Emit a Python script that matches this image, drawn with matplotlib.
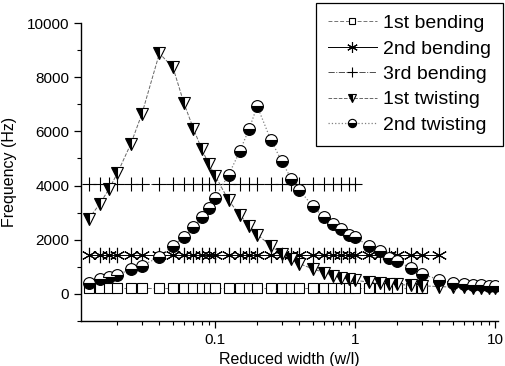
import matplotlib
matplotlib.use("Agg")
import matplotlib.pyplot as plt
from matplotlib.ticker import MultipleLocator, FixedLocator

plt.rcParams['font.family'] = ['Liberation Sans', 'DejaVu Sans']

# reduced width (w/l) grid used by the simulations
w_bend1 = [0.0125, 0.015, 0.0175, 0.02, 0.025, 0.03, 0.04, 0.05, 0.06, 0.07, 0.08, 0.09, 0.1,
           0.125, 0.15, 0.175, 0.2, 0.25, 0.3, 0.35, 0.4, 0.5, 0.6, 0.7, 0.8, 0.9, 1.0,
           1.25, 1.5, 1.75, 2, 2.5, 3]
f_bend1 = [200] * len(w_bend1)

w_bend2 = w_bend1 + [4]
f_bend2 = [1420] * len(w_bend2)

w_bend3 = w_bend1[:27]
f_bend3 = [4070] * len(w_bend3)

w_twist = [0.0125, 0.015, 0.0175, 0.02, 0.025, 0.03, 0.04, 0.05, 0.06, 0.07, 0.08, 0.09, 0.1,
           0.125, 0.15, 0.175, 0.2, 0.25, 0.3, 0.35, 0.4, 0.5, 0.6, 0.7, 0.8, 0.9, 1.0,
           1.25, 1.5, 1.75, 2, 2.5, 3, 4, 5, 6, 7, 8, 9, 10]
f_twist1 = [2770, 3330, 3880, 4450, 5540, 6650, 8880, 8360, 7030, 6100, 5360, 4800, 4370,
            3450, 2920, 2520, 2190, 1780, 1470, 1290, 1120, 920, 790, 670, 600, 545, 500,
            440, 400, 370, 350, 320, 300, 270, 250, 240, 230, 225, 220, 215]
f_twist2 = [420, 540, 630, 700, 910, 1040, 1370, 1780, 2110, 2460, 2830, 3160, 3550,
            4400, 5260, 6090, 6930, 5690, 4890, 4250, 3840, 3230, 2830, 2580, 2400, 2190, 2090,
            1780, 1590, 1340, 1200, 960, 740, 520, 390, 350, 330, 320, 310, 300]

fig = plt.figure(figsize=(5.06, 3.66), dpi=100)
ax = fig.add_axes([0.160, 0.123, 0.824, 0.814])

ax.plot(w_bend1, f_bend1, color='0.45', ls=(0, (4, 2)), lw=0.7,
        marker='s', ms=7, mfc='white', mec='k', mew=0.8, label='1st bending')
ax.plot(w_bend2, f_bend2, color='k', ls='-', lw=0.7,
        marker=(6, 2, 0), ms=11, mec='k', mew=0.8, label='2nd bending')
ax.plot(w_bend3, f_bend3, color='0.3', ls='-.', lw=0.7,
        marker='+', ms=10, mec='k', mew=0.8, label='3rd bending')
ax.plot(w_twist, f_twist1, color='0.4', ls='--', lw=0.7,
        marker='v', ms=9, fillstyle='left', mfc='k', markerfacecoloralt='white',
        mec='k', mew=0.8, label='1st twisting')
ax.plot(w_twist, f_twist2, color='0.5', ls=':', lw=0.9,
        marker='o', ms=8.5, fillstyle='bottom', mfc='k', markerfacecoloralt='white',
        mec='k', mew=0.8, label='2nd twisting')

ax.set_xscale('log')
ax.set_xlim(0.011, 10.5)
ax.set_ylim(-1000, 10000)
ax.xaxis.set_major_locator(FixedLocator([0.1, 1, 10]))
ax.set_xticklabels(['0.1', '1', '10'])
ax.yaxis.set_major_locator(FixedLocator([0, 2000, 4000, 6000, 8000, 10000]))
ax.yaxis.set_minor_locator(MultipleLocator(1000))

for side in ['top', 'right']:
    ax.spines[side].set_visible(False)
ax.spines['left'].set_linewidth(1.0)
ax.spines['bottom'].set_linewidth(1.0)
ax.tick_params(which='major', direction='out', length=5, width=0.9, labelsize=11)
ax.tick_params(which='minor', direction='out', length=3, width=0.8)

ax.set_xlabel('Reduced width (w/l)', fontsize=11.5, labelpad=4)
ax.set_ylabel('Frequency (Hz)', fontsize=11.5, labelpad=7)

leg = ax.legend(loc='upper right', bbox_to_anchor=(503 / 506, 1 - 3 / 366),
                bbox_transform=fig.transFigure, borderaxespad=0, fontsize=14,
                fancybox=False, framealpha=1, edgecolor='k', labelspacing=0.4,
                handlelength=2.5, handletextpad=0.35, borderpad=0.6, markerscale=0.7)
leg.get_frame().set_linewidth(0.9)

fig.savefig('out.png', dpi=100)
